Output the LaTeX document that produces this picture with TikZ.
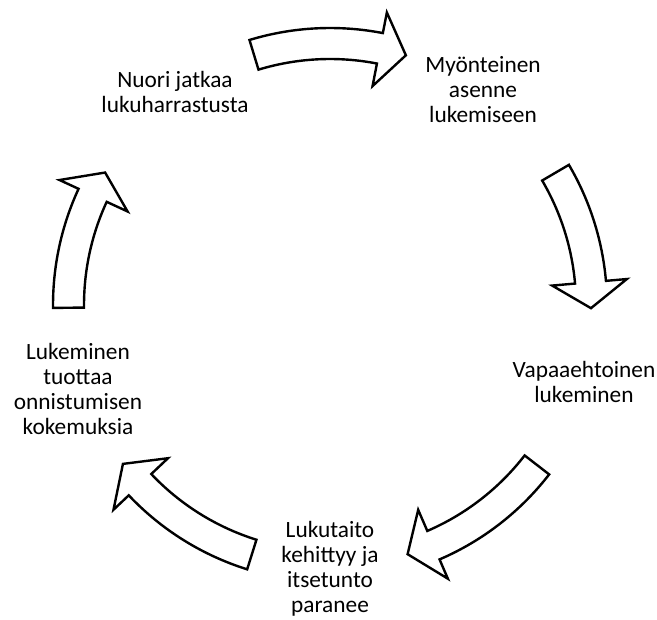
\documentclass[tikz,border=0pt]{standalone}
\usepackage{fontspec}
\setmainfont{Carlito}

\begin{document}
\begin{tikzpicture}[x=0.75pt, y=-0.75pt,
     stage/.style = {align=center, inner sep=0pt, font=\fontsize{17.5}{18.75}\selectfont},
     cyclearrow/.style = {draw, line width=1.8pt, miter limit=20, fill=white}
    ]
    \useasboundingbox (0,0) rectangle (657,619);
    \coordinate (ctr) at (330,305);

    % texts of the cycle
    \node [stage] (jatkaa) at (175,92) {Nuori jatkaa\\lukuharrastusta};
    \node [stage] (asenne) at (483,90) {Myönteinen\\asenne\\lukemiseen};
    \node [stage] (vapaa) at (584,382) {Vapaaehtoinen\\lukeminen};
    \node [stage] (lukutaito) at (330,569) {Lukutaito\\kehittyy ja\\itsetunto\\paranee};
    \node [stage] (onnistuminen) at (78,389) {Lukeminen\\tuottaa\\onnistumisen\\kokemuksia};

    % block arrows: tail / end of body / tip angle
    \foreach \tail/\neck/\tip in {106.9/79/73.1, 30.4/5/-0.7, -37.7/-66.7/-72.7,
        -107.4/-136.6/-142.5, 180.6/155.2/149.5}
    {
      \draw [cyclearrow, shift={(ctr)}] (\tail:207.75pt)
        arc [start angle=\tail, end angle=\neck, radius=207.75pt]
        -- (\neck:223.5pt) -- (\tip:195.75pt) -- (\neck:167.25pt) -- (\neck:184.5pt)
        arc [start angle=\neck, end angle=\tail, radius=184.5pt] -- cycle;
    }
\end{tikzpicture}
\end{document}
